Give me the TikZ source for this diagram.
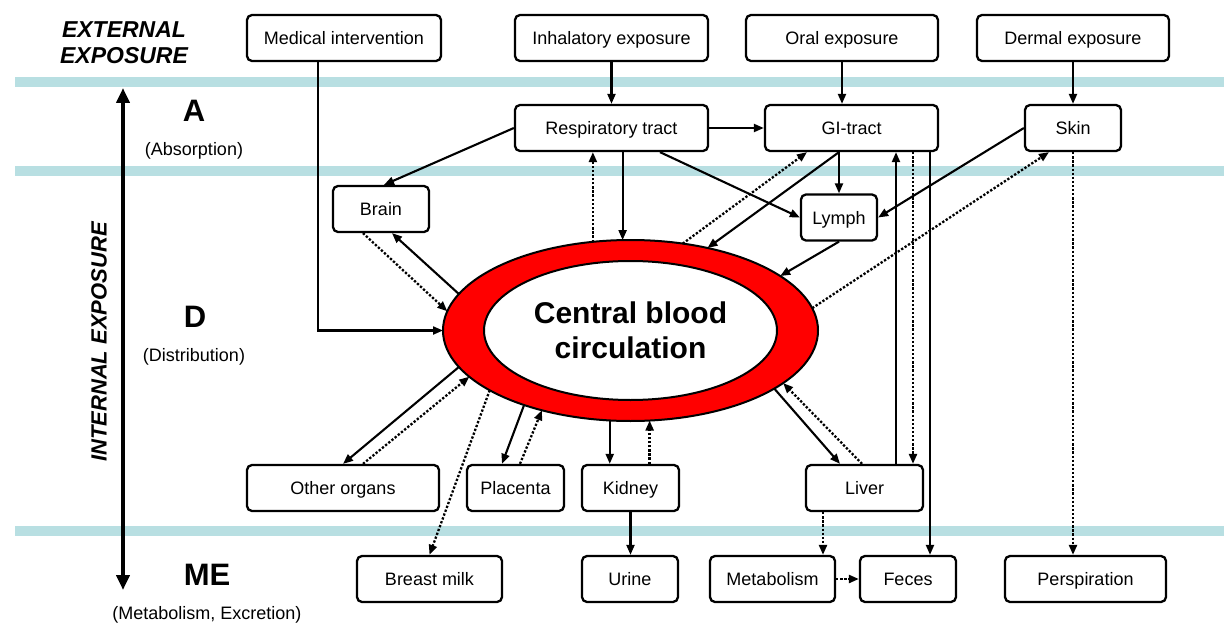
\documentclass[tikz,border=0pt]{standalone}
\usepackage{fontspec}
\setmainfont{Liberation Sans}
\usetikzlibrary{arrows.meta,shapes.geometric}
\definecolor{bandBlue}{HTML}{B8DFE2}
\definecolor{bloodRed}{HTML}{FF0000}

\begin{document}
\begin{tikzpicture}[x=1pt, y=-1pt,
  organ/.style={draw, line width=2.3pt, rounded corners=5pt, minimum height=46pt, inner sep=0pt, text height=13pt, text depth=0pt, font=\fontsize{18}{21}\selectfont},
  flow/.style={line width=2.1pt, -{Triangle[length=10pt,width=8pt]}},
  leak/.style={flow, line width=2.3pt, dash pattern=on 2.3pt off 1.8pt},
  phase/.style={font=\bfseries\fontsize{31}{36}\selectfont},
  phaseNote/.style={font=\fontsize{18}{21}\selectfont}]
	\useasboundingbox (0,0) rectangle (1224,623);

	% phase bands
	\fill[bandBlue] (15,77)  rectangle (1224,87);
	\fill[bandBlue] (15,166) rectangle (1224,176);
	\fill[bandBlue] (15,526) rectangle (1224,536);

	% phase labels
	\node[font=\bfseries\itshape\fontsize{23}{26}\selectfont, align=center] (extExp) at (124,43) {EXTERNAL\\EXPOSURE};
	\node[rotate=90, font=\bfseries\itshape\fontsize{22}{26}\selectfont] (intExp) at (99,342) {INTERNAL EXPOSURE};
	\node[phase]     (phaseA)  at (194,111) {A};
	\node[phaseNote] (noteA)   at (194,151) {(Absorption)};
	\node[phase]     (phaseD)  at (195,317) {D};
	\node[phaseNote] (noteD)   at (194,357) {(Distribution)};
	\node[phase]     (phaseME) at (207,575) {ME};
	\node[phaseNote] (noteME)  at (207,615) {(Metabolism, Excretion)};
	\coordinate (phaseTop) at (123,88);
	\coordinate (phaseBot) at (123,590);
	\draw[line width=4pt, {Triangle[length=15pt,width=13pt]}-{Triangle[length=15pt,width=13pt]}] (phaseTop) -- (phaseBot);

	% central blood circulation
	\node[ellipse, draw, line width=2pt, fill=bloodRed, minimum width=375pt, minimum height=181pt, inner sep=0pt, outer sep=0pt] (blood) at (630.5,330.5) {};
	\node[ellipse, draw, line width=2pt, fill=white, minimum width=293pt, minimum height=139pt, inner sep=0pt, align=center, font=\bfseries\fontsize{30}{35}\selectfont] (bloodCore) at (blood.center) {Central blood\\circulation};

	% boxes
	\node[organ, minimum width=194pt] (med)   at (344,38)    {Medical intervention};
	\node[organ, minimum width=193pt] (inh)   at (611.5,38)  {Inhalatory exposure};
	\node[organ, minimum width=192pt] (oral)  at (842,38)    {Oral exposure};
	\node[organ, minimum width=192pt] (derm)  at (1073,38)   {Dermal exposure};
	\node[organ, minimum width=193pt] (resp)  at (611.5,128) {Respiratory tract};
	\node[organ, minimum width=173pt] (gi)    at (851.5,128) {GI-tract};
	\node[organ, minimum width=96pt]  (skin)  at (1073,128)  {Skin};
	\node[organ, minimum width=96pt]  (brain) at (381,209)   {Brain};
	\node[organ, minimum width=76pt]  (lymph) at (839,217.5) {Lymph};
	\node[organ, minimum width=192pt] (other) at (343,488)   {Other organs};
	\node[organ, minimum width=97pt]  (plac)  at (515.5,488) {Placenta};
	\node[organ, minimum width=97pt]  (kid)   at (630.5,488) {Kidney};
	\node[organ, minimum width=117pt] (liver) at (864.5,488) {Liver};
	\node[organ, minimum width=145pt] (milk)  at (429.5,579) {Breast milk};
	\node[organ, minimum width=96pt]  (urine) at (630,579)   {Urine};
	\node[organ, minimum width=125pt] (metab) at (772.5,579) {Metabolism};
	\node[organ, minimum width=96pt]  (feces) at (908,579)   {Feces};
	\node[organ, minimum width=161pt] (persp) at (1085.5,579) {Perspiration};

	% absorption
	\draw[flow] ([xshift=-26pt]med.south) |- (blood.west);
	\draw[flow] (inh.south) -- (resp.north);
	\draw[flow] (oral.south) -- (oral.south |- gi.north);
	\draw[flow] (derm.south) -- (skin.north);
	\draw[flow] (resp.east) -- (gi.west);
	\draw[flow] (resp.west) -- ([xshift=3pt]brain.north);
	\draw[flow] (resp.south -| blood.95) -- (blood.95);
	\draw[leak] (blood.113) -- (blood.113 |- resp.south);
	\draw[flow] ([xshift=48.5pt]resp.south) -- (lymph.west);
	\draw[flow] (gi.south -| lymph.north) -- (lymph.north);
	\draw[flow] (gi.south -| lymph.north) -- (blood.47);
	\draw[leak] (blood.59) -- ([xshift=-44.5pt]gi.south);
	\draw[flow] (lymph.south) -- (blood.20);
	\draw[flow] (skin.west) -- (lymph.east);
	\draw[leak] (blood.7) -- ([xshift=-24pt]skin.south);

	% distribution
	\draw[leak] ([xshift=-18pt]brain.south) -- (blood.174);
	\draw[flow] (blood.168) -- ([xshift=11pt]brain.south);
	\draw[flow] (blood.192) -- (other.north);
	\draw[leak] ([xshift=20pt]other.north) -- (blood.196);
	\draw[flow] (blood.215) -- ([xshift=-13.5pt]plac.north);
	\draw[leak] ([xshift=4.5pt]plac.north) -- (blood.222);
	\draw[flow] (blood.257) -- (blood.257 |- kid.north);
	\draw[leak] (blood.282 |- kid.north) -- (blood.282);
	\draw[flow] (blood.338) -- ([xshift=-24.5pt]liver.north);
	\draw[leak] ([xshift=-2.5pt]liver.north) -- (blood.341);
	\draw[flow] ([xshift=31.5pt]liver.north) -- ([xshift=44.5pt]gi.south);
	\draw[leak] ([xshift=61.5pt]gi.south) -- ([xshift=48.5pt]liver.north);

	% metabolism, excretion
	\draw[leak] (blood.203) -- (milk.north);
	\draw[flow] (kid.south) -- (kid.south |- urine.north);
	\draw[leak] ([xshift=-41.5pt]liver.south) -- ([xshift=50.5pt]metab.north);
	\draw[leak] (metab.east) -- (feces.west);
	\draw[flow] ([xshift=78.5pt]gi.south) -- ([xshift=22pt]feces.north);
	\draw[leak] (skin.south) -- (skin.south |- persp.north);
\end{tikzpicture}
\end{document}
